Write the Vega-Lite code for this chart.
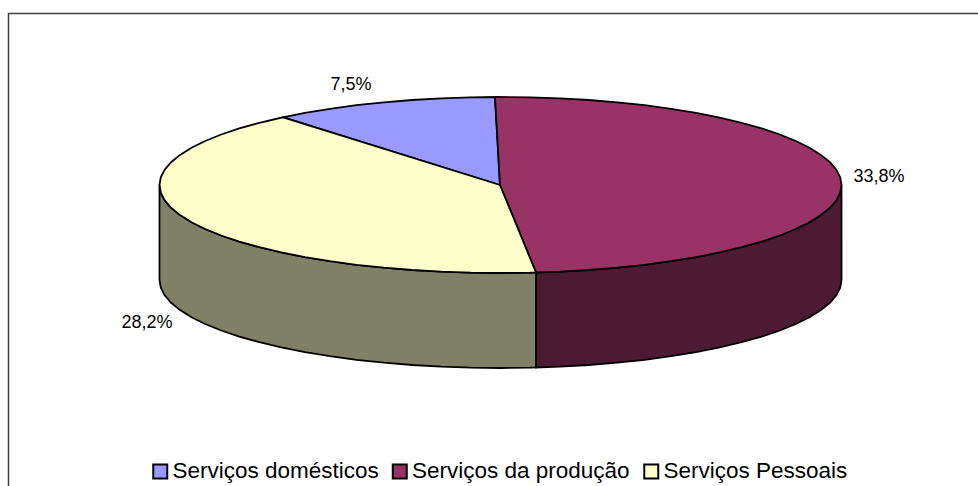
{"$schema":"https://vega.github.io/schema/vega-lite/v6.json","width":978,"height":486,"padding":0,"autosize":{"type":"none"},"background":"white","view":{"stroke":null},
"datasets":{
"frame":[{"x":8.5,"y":486,"s":1},{"x":8.5,"y":13.5,"s":2},{"x":978,"y":13.5,"s":3}],
"sideA":[{"s":1,"x":841.5,"y":185},{"s":2,"x":840.2,"y":192.7},{"s":3,"x":836.3,"y":200.3},{"s":4,"x":829.9,"y":207.8},{"s":5,"x":820.9,"y":215.1},{"s":6,"x":809.5,"y":222.2},{"s":7,"x":795.8,"y":229},{"s":8,"x":779.8,"y":235.5},{"s":9,"x":761.7,"y":241.6},{"s":10,"x":741.6,"y":247.2},{"s":11,"x":719.7,"y":252.4},{"s":12,"x":696.1,"y":257.1},{"s":13,"x":671,"y":261.2},{"s":14,"x":644.6,"y":264.8},{"s":15,"x":617.1,"y":267.7},{"s":16,"x":588.8,"y":270},{"s":17,"x":559.7,"y":271.7},{"s":18,"x":536,"y":272.5},{"s":19,"x":536,"y":367.5},{"s":20,"x":559.7,"y":366.7},{"s":21,"x":588.8,"y":365},{"s":22,"x":617.1,"y":362.7},{"s":23,"x":644.6,"y":359.8},{"s":24,"x":671,"y":356.2},{"s":25,"x":696.1,"y":352.1},{"s":26,"x":719.7,"y":347.4},{"s":27,"x":741.6,"y":342.2},{"s":28,"x":761.7,"y":336.6},{"s":29,"x":779.8,"y":330.5},{"s":30,"x":795.8,"y":324},{"s":31,"x":809.5,"y":317.2},{"s":32,"x":820.9,"y":310.1},{"s":33,"x":829.9,"y":302.8},{"s":34,"x":836.3,"y":295.3},{"s":35,"x":840.2,"y":287.7},{"s":36,"x":841.5,"y":280},{"s":37,"x":841.5,"y":185}],
"sideB":[{"s":1,"x":536,"y":272.5},{"s":2,"x":530.2,"y":272.7},{"s":3,"x":500.5,"y":273},{"s":4,"x":470.8,"y":272.7},{"s":5,"x":441.3,"y":271.7},{"s":6,"x":412.2,"y":270},{"s":7,"x":383.9,"y":267.7},{"s":8,"x":356.4,"y":264.8},{"s":9,"x":330,"y":261.2},{"s":10,"x":304.9,"y":257.1},{"s":11,"x":281.3,"y":252.4},{"s":12,"x":259.4,"y":247.2},{"s":13,"x":239.3,"y":241.6},{"s":14,"x":221.2,"y":235.5},{"s":15,"x":205.2,"y":229},{"s":16,"x":191.5,"y":222.2},{"s":17,"x":180.1,"y":215.1},{"s":18,"x":171.1,"y":207.8},{"s":19,"x":164.7,"y":200.3},{"s":20,"x":160.8,"y":192.7},{"s":21,"x":159.5,"y":185},{"s":22,"x":159.5,"y":280},{"s":23,"x":160.8,"y":287.7},{"s":24,"x":164.7,"y":295.3},{"s":25,"x":171.1,"y":302.8},{"s":26,"x":180.1,"y":310.1},{"s":27,"x":191.5,"y":317.2},{"s":28,"x":205.2,"y":324},{"s":29,"x":221.2,"y":330.5},{"s":30,"x":239.3,"y":336.6},{"s":31,"x":259.4,"y":342.2},{"s":32,"x":281.3,"y":347.4},{"s":33,"x":304.9,"y":352.1},{"s":34,"x":330,"y":356.2},{"s":35,"x":356.4,"y":359.8},{"s":36,"x":383.9,"y":362.7},{"s":37,"x":412.2,"y":365},{"s":38,"x":441.3,"y":366.7},{"s":39,"x":470.8,"y":367.7},{"s":40,"x":500.5,"y":368},{"s":41,"x":530.2,"y":367.7},{"s":42,"x":536,"y":367.5},{"s":43,"x":536,"y":272.5}],
"tops":[
{"slice":"Serviços domésticos","s":1,"x":500,"y":185},{"slice":"Serviços domésticos","s":2,"x":283,"y":117.3},{"slice":"Serviços domésticos","s":3,"x":304.9,"y":112.9},{"slice":"Serviços domésticos","s":4,"x":330,"y":108.8},{"slice":"Serviços domésticos","s":5,"x":356.4,"y":105.2},{"slice":"Serviços domésticos","s":6,"x":383.9,"y":102.3},{"slice":"Serviços domésticos","s":7,"x":412.2,"y":100},{"slice":"Serviços domésticos","s":8,"x":441.3,"y":98.3},{"slice":"Serviços domésticos","s":9,"x":470.8,"y":97.3},{"slice":"Serviços domésticos","s":10,"x":495,"y":97},{"slice":"Serviços domésticos","s":11,"x":500,"y":185},
{"slice":"Serviços da produção","s":1,"x":500,"y":185},{"slice":"Serviços da produção","s":2,"x":495,"y":97},{"slice":"Serviços da produção","s":3,"x":530.2,"y":97.3},{"slice":"Serviços da produção","s":4,"x":559.7,"y":98.3},{"slice":"Serviços da produção","s":5,"x":588.8,"y":100},{"slice":"Serviços da produção","s":6,"x":617.1,"y":102.3},{"slice":"Serviços da produção","s":7,"x":644.6,"y":105.2},{"slice":"Serviços da produção","s":8,"x":671,"y":108.8},{"slice":"Serviços da produção","s":9,"x":696.1,"y":112.9},{"slice":"Serviços da produção","s":10,"x":719.7,"y":117.6},{"slice":"Serviços da produção","s":11,"x":741.6,"y":122.8},{"slice":"Serviços da produção","s":12,"x":761.7,"y":128.4},{"slice":"Serviços da produção","s":13,"x":779.8,"y":134.5},{"slice":"Serviços da produção","s":14,"x":795.8,"y":141},{"slice":"Serviços da produção","s":15,"x":809.5,"y":147.8},{"slice":"Serviços da produção","s":16,"x":820.9,"y":154.9},{"slice":"Serviços da produção","s":17,"x":829.9,"y":162.2},{"slice":"Serviços da produção","s":18,"x":836.3,"y":169.7},{"slice":"Serviços da produção","s":19,"x":840.2,"y":177.3},{"slice":"Serviços da produção","s":20,"x":841.5,"y":185},{"slice":"Serviços da produção","s":21,"x":840.2,"y":192.7},{"slice":"Serviços da produção","s":22,"x":836.3,"y":200.3},{"slice":"Serviços da produção","s":23,"x":829.9,"y":207.8},{"slice":"Serviços da produção","s":24,"x":820.9,"y":215.1},{"slice":"Serviços da produção","s":25,"x":809.5,"y":222.2},{"slice":"Serviços da produção","s":26,"x":795.8,"y":229},{"slice":"Serviços da produção","s":27,"x":779.8,"y":235.5},{"slice":"Serviços da produção","s":28,"x":761.7,"y":241.6},{"slice":"Serviços da produção","s":29,"x":741.6,"y":247.2},{"slice":"Serviços da produção","s":30,"x":719.7,"y":252.4},{"slice":"Serviços da produção","s":31,"x":696.1,"y":257.1},{"slice":"Serviços da produção","s":32,"x":671,"y":261.2},{"slice":"Serviços da produção","s":33,"x":644.6,"y":264.8},{"slice":"Serviços da produção","s":34,"x":617.1,"y":267.7},{"slice":"Serviços da produção","s":35,"x":588.8,"y":270},{"slice":"Serviços da produção","s":36,"x":559.7,"y":271.7},{"slice":"Serviços da produção","s":37,"x":536,"y":272.5},{"slice":"Serviços da produção","s":38,"x":500,"y":185},
{"slice":"Serviços Pessoais","s":1,"x":500,"y":185},{"slice":"Serviços Pessoais","s":2,"x":536,"y":272.5},{"slice":"Serviços Pessoais","s":3,"x":530.2,"y":272.7},{"slice":"Serviços Pessoais","s":4,"x":500.5,"y":273},{"slice":"Serviços Pessoais","s":5,"x":470.8,"y":272.7},{"slice":"Serviços Pessoais","s":6,"x":441.3,"y":271.7},{"slice":"Serviços Pessoais","s":7,"x":412.2,"y":270},{"slice":"Serviços Pessoais","s":8,"x":383.9,"y":267.7},{"slice":"Serviços Pessoais","s":9,"x":356.4,"y":264.8},{"slice":"Serviços Pessoais","s":10,"x":330,"y":261.2},{"slice":"Serviços Pessoais","s":11,"x":304.9,"y":257.1},{"slice":"Serviços Pessoais","s":12,"x":281.3,"y":252.4},{"slice":"Serviços Pessoais","s":13,"x":259.4,"y":247.2},{"slice":"Serviços Pessoais","s":14,"x":239.3,"y":241.6},{"slice":"Serviços Pessoais","s":15,"x":221.2,"y":235.5},{"slice":"Serviços Pessoais","s":16,"x":205.2,"y":229},{"slice":"Serviços Pessoais","s":17,"x":191.5,"y":222.2},{"slice":"Serviços Pessoais","s":18,"x":180.1,"y":215.1},{"slice":"Serviços Pessoais","s":19,"x":171.1,"y":207.8},{"slice":"Serviços Pessoais","s":20,"x":164.7,"y":200.3},{"slice":"Serviços Pessoais","s":21,"x":160.8,"y":192.7},{"slice":"Serviços Pessoais","s":22,"x":159.5,"y":185},{"slice":"Serviços Pessoais","s":23,"x":160.8,"y":177.3},{"slice":"Serviços Pessoais","s":24,"x":164.7,"y":169.7},{"slice":"Serviços Pessoais","s":25,"x":171.1,"y":162.2},{"slice":"Serviços Pessoais","s":26,"x":180.1,"y":154.9},{"slice":"Serviços Pessoais","s":27,"x":191.5,"y":147.8},{"slice":"Serviços Pessoais","s":28,"x":205.2,"y":141},{"slice":"Serviços Pessoais","s":29,"x":221.2,"y":134.5},{"slice":"Serviços Pessoais","s":30,"x":239.3,"y":128.4},{"slice":"Serviços Pessoais","s":31,"x":259.4,"y":122.8},{"slice":"Serviços Pessoais","s":32,"x":283,"y":117.3},{"slice":"Serviços Pessoais","s":33,"x":500,"y":185}],
"labels":[{"label":"7,5%","x":351,"y":84.5},{"label":"33,8%","x":879,"y":177},{"label":"28,2%","x":147,"y":322.5}]
},
"layer":[
{"data":{"name":"frame"},"mark":{"type":"line","stroke":"#404040","strokeWidth":1.5,"clip":true},"encoding":{"x":{"field":"x","type":"quantitative","scale":{"domain":[0,978],"nice":false,"zero":false},"axis":null},"y":{"field":"y","type":"quantitative","scale":{"domain":[486,0],"nice":false,"zero":false},"axis":null},"order":{"field":"s"}}},
{"data":{"name":"sideA"},"mark":{"type":"line","fill":"#4D1A33","stroke":"black","strokeWidth":1.8},"encoding":{"x":{"field":"x","type":"quantitative"},"y":{"field":"y","type":"quantitative"},"order":{"field":"s"}}},
{"data":{"name":"sideB"},"mark":{"type":"line","fill":"#808066","stroke":"black","strokeWidth":1.8},"encoding":{"x":{"field":"x","type":"quantitative"},"y":{"field":"y","type":"quantitative"},"order":{"field":"s"}}},
{"data":{"name":"tops"},"mark":{"type":"line","stroke":"black","strokeWidth":1.8},"encoding":{"x":{"field":"x","type":"quantitative"},"y":{"field":"y","type":"quantitative"},"order":{"field":"s"},"detail":{"field":"slice"},
"fill":{"field":"slice","type":"nominal","scale":{"domain":["Serviços domésticos","Serviços da produção","Serviços Pessoais"],"range":["#9999FF","#993366","#FFFFCC"]},"legend":{"title":null,"orient":"none","legendX":149,"legendY":460,"direction":"horizontal","columns":3,"symbolType":"square","symbolSize":196,"symbolStrokeColor":"black","symbolStrokeWidth":2,"symbolOpacity":1,"labelFont":"Liberation Sans","labelFontSize":22.5,"labelColor":"black","labelOffset":1,"labelLimit":400,"columnPadding":9.5,"symbolOffset":0}}}},
{"data":{"name":"labels"},"mark":{"type":"text","font":"Liberation Sans","fontSize":18,"color":"black"},"encoding":{"x":{"field":"x","type":"quantitative"},"y":{"field":"y","type":"quantitative"},"text":{"field":"label"}}}
]}
